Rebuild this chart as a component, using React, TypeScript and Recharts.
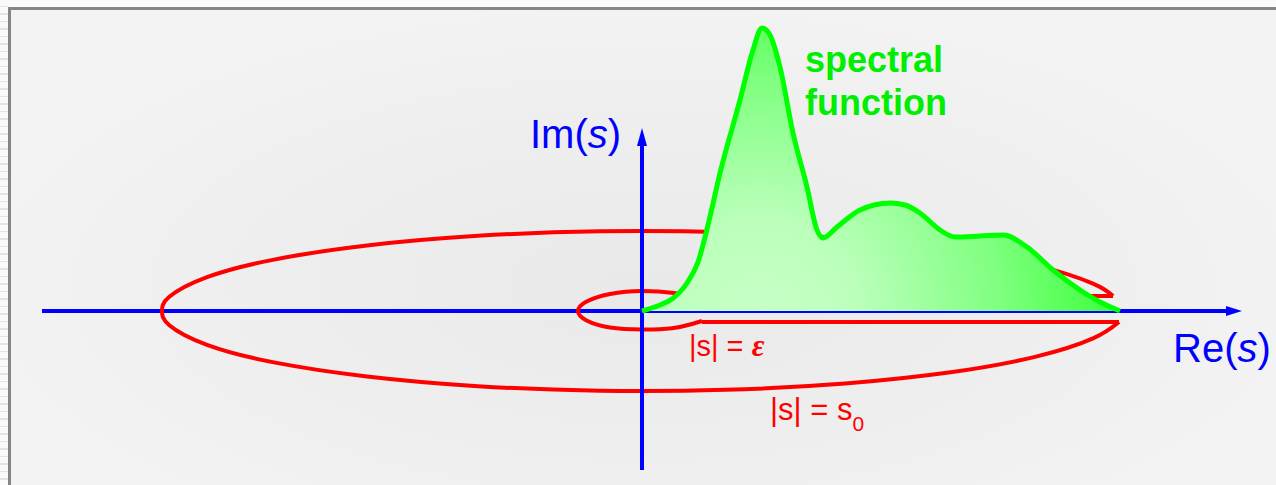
import { Area, ComposedChart, Line, XAxis, YAxis } from 'recharts'

// s-plane in units of 100px on both axes, origin at the axis crossing
const reDomain = [-6.42, 6.34]
const imDomain = [-1.74, 3.11]

const reAxis = [
  { re: -6.0, im: 0 },
  { re: 5.86, im: 0 },
]
const imAxis = [
  { re: 0, im: -1.59 },
  { re: 0, im: 1.67 },
]

// |s| = s0, counter-clockwise from the upper lip of the cut
const outerArc = [
  { re: 4.71, im: 0.15 },
  { re: 4.51, im: 0.274 },
  { re: 3.93, im: 0.459 },
  { re: 3.085, im: 0.613 },
  { re: 2.03, im: 0.725 },
  { re: 0.833, im: 0.788 },
  { re: -0.419, im: 0.797 },
  { re: -1.64, im: 0.752 },
  { re: -2.75, im: 0.655 },
  { re: -3.68, im: 0.514 },
  { re: -4.35, im: 0.338 },
  { re: -4.73, im: 0.139 },
  { re: -4.8, im: 0 },
  { re: -4.73, im: -0.139 },
  { re: -4.35, im: -0.338 },
  { re: -3.68, im: -0.514 },
  { re: -2.75, im: -0.655 },
  { re: -1.64, im: -0.752 },
  { re: -0.419, im: -0.797 },
  { re: 0.833, im: -0.788 },
  { re: 2.03, im: -0.725 },
  { re: 3.085, im: -0.613 },
  { re: 3.93, im: -0.459 },
  { re: 4.51, im: -0.274 },
  { re: 4.77, im: -0.11 },
]

// |s| = ε, clockwise from the lower lip of the cut
const innerArc = [
  { re: 0.6, im: -0.1 },
  { re: 0.5, im: -0.13 },
  { re: 0.3, im: -0.172 },
  { re: 0, im: -0.185 },
  { re: -0.32, im: -0.165 },
  { re: -0.554, im: -0.095 },
  { re: -0.64, im: 0 },
  { re: -0.554, im: 0.095 },
  { re: -0.32, im: 0.17 },
  { re: 0, im: 0.2 },
  { re: 0.32, im: 0.18 },
  { re: 0.45, im: 0.15 },
]

const upperCut = [
  { re: 0.45, im: 0.15 },
  { re: 4.71, im: 0.15 },
]
const lowerCut = [
  { re: 0.6, im: -0.11 },
  { re: 4.77, im: -0.11 },
]

const spectral = [
  { re: 0, im: 0 },
  { re: 0.18, im: 0.06 },
  { re: 0.3, im: 0.12 },
  { re: 0.45, im: 0.28 },
  { re: 0.56, im: 0.49 },
  { re: 0.66, im: 0.86 },
  { re: 0.78, im: 1.38 },
  { re: 0.98, im: 2.11 },
  { re: 1.11, im: 2.61 },
  { re: 1.2, im: 2.83 },
  { re: 1.28, im: 2.76 },
  { re: 1.38, im: 2.44 },
  { re: 1.51, im: 1.78 },
  { re: 1.65, im: 1.24 },
  { re: 1.75, im: 0.81 },
  { re: 1.81, im: 0.73 },
  { re: 1.95, im: 0.84 },
  { re: 2.18, im: 1.01 },
  { re: 2.48, im: 1.08 },
  { re: 2.63, im: 1.06 },
  { re: 2.78, im: 0.98 },
  { re: 2.98, im: 0.81 },
  { re: 3.13, im: 0.74 },
  { re: 3.38, im: 0.75 },
  { re: 3.61, im: 0.76 },
  { re: 3.85, im: 0.64 },
  { re: 4.11, im: 0.41 },
  { re: 4.38, im: 0.21 },
  { re: 4.58, im: 0.09 },
  { re: 4.78, im: 0 },
]

const BLUE = '#0000ff'
const RED = '#ff0000'
const GREEN = '#00ff00'
const SANS = '"Liberation Sans", Arial, sans-serif'

const arrowRight = (props: any) => {
  const { cx, cy, index } = props
  if (index !== reAxis.length - 1) return <g key={`r${index}`} />
  return (
    <polygon
      key='re-arrow'
      points={`${cx - 2},${cy - 5} ${cx + 14},${cy} ${cx - 2},${cy + 5}`}
      fill={BLUE}
    />
  )
}

const arrowUp = (props: any) => {
  const { cx, cy, index } = props
  if (index !== imAxis.length - 1) return <g key={`i${index}`} />
  return (
    <polygon
      key='im-arrow'
      points={`${cx - 5},${cy + 2} ${cx},${cy - 16} ${cx + 5},${cy + 2}`}
      fill={BLUE}
    />
  )
}

export default function App() {
  return (
    <div style={{ position: 'relative', width: 1276, height: 485, background: '#fafafa', overflow: 'hidden' }}>
      <style>{'body{margin:0}'}</style>
      <div
        style={{
          position: 'absolute',
          left: 0,
          top: 0,
          width: 8,
          height: 485,
          background: 'repeating-linear-gradient(to bottom, #fafafa 0px, #fafafa 6px, #e4e4e4 6px, #e4e4e4 7.5px)',
        }}
      />
      <div
        style={{
          position: 'absolute',
          left: 8,
          top: 7,
          right: 0,
          bottom: 0,
          borderLeft: '3px solid #858585',
          borderTop: '3px solid #858585',
          background: 'radial-gradient(ellipse 55% 62% at 50% 58%, #e9e9e9 0%, #eeeeee 55%, #f3f3f3 100%)',
        }}
      />
      <ComposedChart
        width={1276}
        height={485}
        margin={{ top: 0, right: 0, bottom: 0, left: 0 }}
        style={{ position: 'absolute', left: 0, top: 0 }}
      >
        <defs>
          <radialGradient id='specFill' gradientUnits='userSpaceOnUse' cx={760} cy={320} r={400}>
            <stop offset='0%' stopColor='#c8ffc8' />
            <stop offset='25%' stopColor='#bbffbb' />
            <stop offset='60%' stopColor='#80ff80' />
            <stop offset='100%' stopColor='#22ff22' />
          </radialGradient>
        </defs>
        <XAxis dataKey='re' type='number' domain={reDomain} allowDataOverflow hide />
        <YAxis type='number' domain={imDomain} allowDataOverflow hide />

        <Line data={reAxis} dataKey='im' type='linear' stroke={BLUE} strokeWidth={4} dot={arrowRight}
          activeDot={false} isAnimationActive={false} zIndex={100} />

        <Line data={outerArc} dataKey='im' type='natural' stroke={RED} strokeWidth={4} dot={false}
          activeDot={false} isAnimationActive={false} zIndex={200} />
        <Line data={innerArc} dataKey='im' type='natural' stroke={RED} strokeWidth={4} dot={false}
          activeDot={false} isAnimationActive={false} zIndex={200} />
        <Line data={upperCut} dataKey='im' type='linear' stroke={RED} strokeWidth={4} dot={false}
          activeDot={false} isAnimationActive={false} zIndex={200} />
        <Line data={lowerCut} dataKey='im' type='linear' stroke={RED} strokeWidth={4} dot={false}
          activeDot={false} isAnimationActive={false} zIndex={200} />

        <Line data={imAxis} dataKey='im' type='linear' stroke={BLUE} strokeWidth={4} dot={arrowUp}
          activeDot={false} isAnimationActive={false} zIndex={300} />

        <Area data={spectral} dataKey='im' type='monotone' baseValue={0} stroke={GREEN} strokeWidth={5}
          strokeLinejoin='round' fill='url(#specFill)' fillOpacity={1} dot={false} activeDot={false}
          isAnimationActive={false} zIndex={400} />

        <text x={530} y={148} fill={BLUE} fontSize={40} fontFamily={SANS}>
          Im(<tspan fontStyle='italic'>s</tspan>)
        </text>
        <text x={1173} y={362} fill={BLUE} fontSize={40} fontFamily={SANS}>
          Re(<tspan fontStyle='italic'>s</tspan>)
        </text>
        <text x={805} y={72} fill='#00ee00' fontSize={36} fontWeight='bold' fontFamily={SANS}>
          spectral
        </text>
        <text x={805} y={115} fill='#00ee00' fontSize={36} fontWeight='bold' fontFamily={SANS}>
          function
        </text>
        <text x={689} y={356} fill={RED} fontSize={29} fontFamily={SANS}>
          |s| ={' '}
          <tspan fontFamily='"Liberation Serif", serif' fontStyle='italic' fontWeight='bold' fontSize={31}>ε</tspan>
        </text>
        <text x={770} y={420} fill={RED} fontSize={31} fontFamily={SANS}>
          |s| = s<tspan fontSize={21} dy={11}>0</tspan>
        </text>
      </ComposedChart>
    </div>
  )
}
